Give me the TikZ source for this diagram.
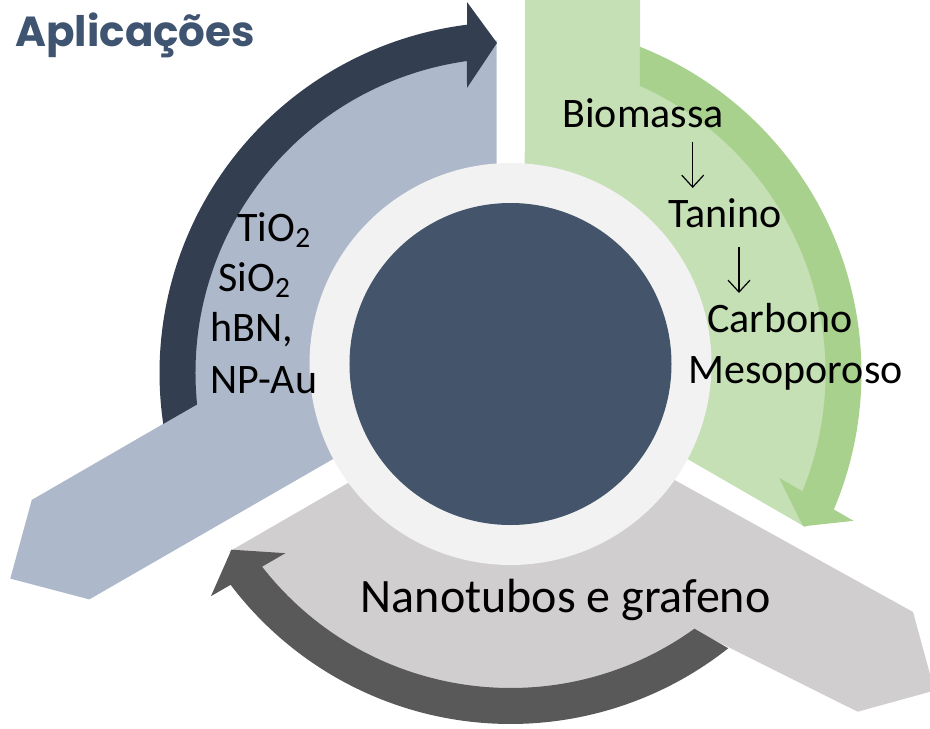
\documentclass[tikz,border=0pt]{standalone}
\usepackage{fontspec}
\setmainfont{Carlito}
\newfontfamily\titlefont{Poppins}
\usetikzlibrary{arrows.meta}

\definecolor{blueLight}{HTML}{ADB9CA}
\definecolor{blueDark}{HTML}{333F50}
\definecolor{greenLight}{HTML}{C5E0B4}
\definecolor{greenDark}{HTML}{A9D18E}
\definecolor{grayLight}{HTML}{D0CECE}
\definecolor{grayDark}{HTML}{595959}
\definecolor{ringGray}{HTML}{F2F2F2}
\definecolor{coreBlue}{HTML}{44546A}
\definecolor{titleBlue}{HTML}{3E5470}

\tikzset{
  lbl/.style={anchor=base west, inner sep=0pt, font=\fontsize{21}{25}\selectfont},
  flow/.style={line width=0.6pt, -{Straight Barb[length=6pt,width=11pt]}}
}

\begin{document}
\begin{tikzpicture}[x=0.5pt,y=0.5pt]
        \useasboundingbox (-510.5,-355) rectangle (419.5,373);
        \clip (-510.5,-355) rectangle (419.5,373);
        % aplicacoes
        \fill[blueLight] (92.41:333) arc[start angle=92.41,end angle=187.1,radius=333] -- (-478.7,-126.9) -- (-500.2,-205.6) -- (-421.2,-226.4) -- (-14,8.1) -- cycle;
        \fill[blueDark] (188.35:351) arc[start angle=188.35,end angle=97.12,radius=351] -- (-43.5,371) -- (-13.5,330) -- (-43.5,285) -- (97.94:315) arc[start angle=97.94,end angle=185.73,radius=315] -- cycle;
        % biomassa
        \begin{scope}[rotate=-120]
        \fill[greenLight] (92.41:333) arc[start angle=92.41,end angle=187.1,radius=333] -- (-478.7,-126.9) -- (-500.2,-205.6) -- (-421.2,-226.4) -- (-14,8.1) -- cycle;
        \fill[greenDark] (188.35:351) arc[start angle=188.35,end angle=97.12,radius=351] -- (-43.5,371) -- (-13.5,330) -- (-43.5,285) -- (97.94:315) arc[start angle=97.94,end angle=185.73,radius=315] -- cycle;
        \end{scope}
        % nanotubos (arm a bit shorter and higher)
        \begin{scope}[rotate=120]
        \fill[grayLight] (92.41:333) arc[start angle=92.41,end angle=187.1,radius=333] -- (-466.9,-131.3) -- (-487,-208.4) -- (-408.2,-229.1) -- (-14,8.1) -- cycle;
        \fill[grayDark] (188.35:351) arc[start angle=188.35,end angle=97.12,radius=351] -- (-43.5,371) -- (-13.5,330) -- (-43.5,285) -- (97.94:315) arc[start angle=97.94,end angle=185.73,radius=315] -- cycle;
        \end{scope}
        \fill[ringGray] (0,9) circle[radius=201];
        \fill[coreBlue] (0,9) circle[radius=161];
        \node[anchor=base west, inner sep=0pt, text=titleBlue, font=\titlefont\bfseries\fontsize{21}{25}\selectfont] (title) at (-495.5,326) {Aplicações};
        \node[lbl] (tio) at (-273.5,131.3) {TiO\textsubscript{2}};
        \node[lbl] (sio) at (-292.5,81.3) {SiO\textsubscript{2}};
        \node[lbl] (hbn) at (-300.5,31.3) {hBN,};
        \node[lbl] (npau) at (-300.5,-20.3) {NP-Au};
        \node[lbl] (bio) at (51.5,245.3) {Biomassa};
        \node[lbl] (tan) at (157.5,145) {Tanino};
        \node[lbl] (carb) at (196.5,41) {Carbono};
        \node[lbl] (meso) at (177.5,-10) {Mesoporoso};
        \node[lbl, font=\fontsize{24}{28}\selectfont] (nano) at (-150,-239) {Nanotubos e grafeno};
        \coordinate (a1) at (182.2,231);
        \coordinate (a2) at (182.2,185);
        \coordinate (a3) at (228.5,126);
        \coordinate (a4) at (228.5,80);
        \draw[flow] (a1) -- (a2);
        \draw[flow] (a3) -- (a4);
      \end{tikzpicture}
\end{document}
